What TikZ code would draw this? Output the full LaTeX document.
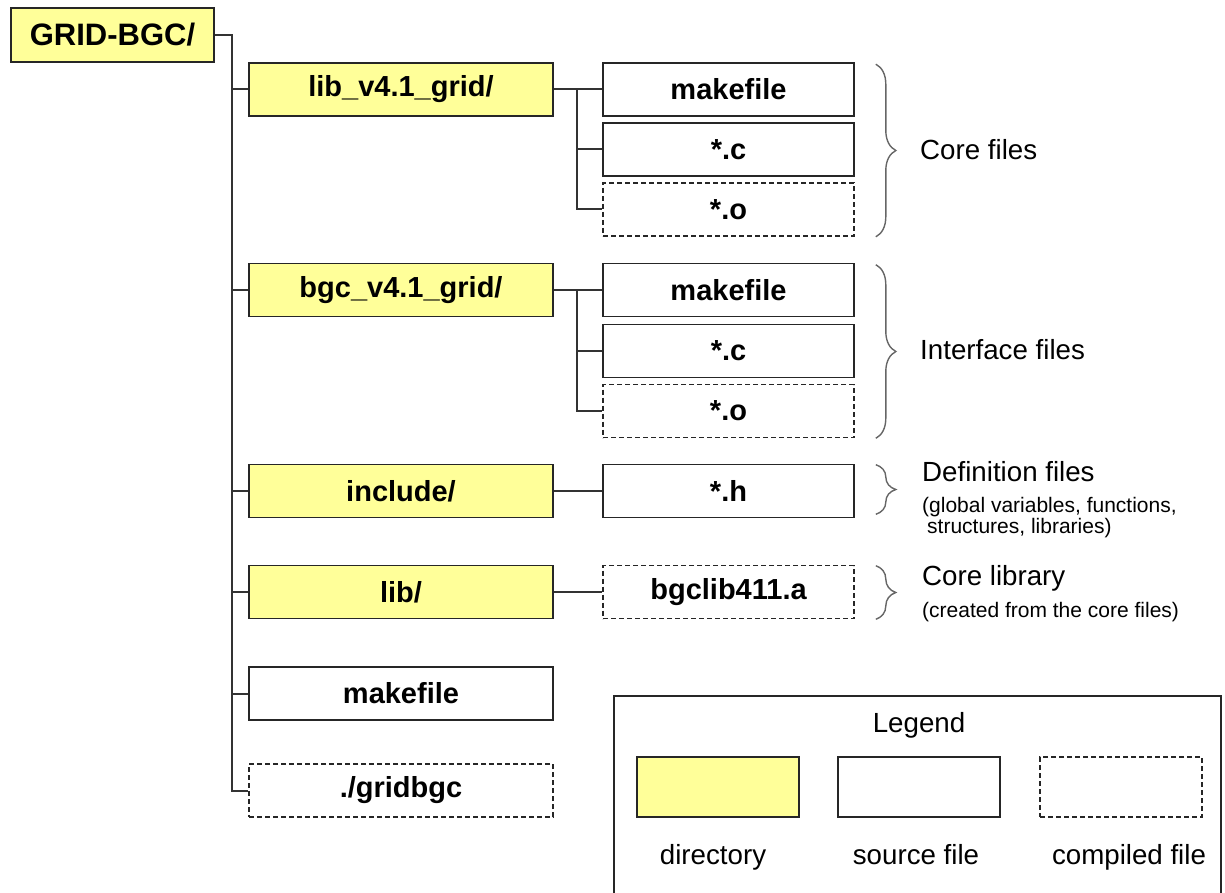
\documentclass[tikz,border=0pt]{standalone}
\usepackage{fontspec}
\setmainfont{Liberation Sans}
\usepackage{tikz}
\usetikzlibrary{positioning,calc,decorations.pathreplacing}
\definecolor{diryellow}{RGB}{255,255,153}

\begin{document}
\begin{tikzpicture}[x=1pt, y=-1pt,
    dir/.style={rectangle, draw=black!85, line width=1.6pt, fill=diryellow, minimum width=304pt, minimum height=53pt, inner sep=0pt, font=\fontsize{29}{34}\selectfont\bfseries},
    src/.style={rectangle, draw=black!85, line width=1.6pt, fill=white, minimum width=251pt, minimum height=53pt, inner sep=0pt, font=\fontsize{29}{34}\selectfont\bfseries},
    bin/.style={src, dash pattern=on 5pt off 3pt},
    key/.style={rectangle, draw=black!85, line width=1.6pt, minimum width=162pt, minimum height=60pt, inner sep=0pt},
    tree/.style={draw=black!80, line width=2pt},
    brace/.style={draw=black!60, line width=1.4pt, decorate, decoration={brace, amplitude=20pt, aspect=0.5}},
    note/.style={font=\fontsize{27.7}{32}\selectfont, inner sep=0pt},
    small/.style={font=\fontsize{21}{21.5}\selectfont, anchor=west, align=left, inner sep=0pt}
]
\useasboundingbox (0,0) rectangle (1225,893);

% Top directory
\node[dir, minimum width=203pt, minimum height=54pt, font=\fontsize{31}{36}\selectfont\bfseries] (rootdir) at (112.5,35) {GRID-BGC/};
\coordinate (trunktop) at (232,35);

% Second level
\node[dir] (libsrcdir) at (401,89.5) {lib\_v4.1\_grid/};
\node[dir] (bgcsrcdir) at (401,290) {bgc\_v4.1\_grid/};
\node[dir] (incdir) at (401,491) {include/};
\node[dir] (libdir) at (401,592) {lib/};
\node[src, minimum width=304pt] (topmake) at (401,693.5) {makefile};
\node[bin, minimum width=304pt] (gridbgc) at (401,790.5) {./gridbgc};

% Files
\node[src] (libmake) at (728.5,89.5) {makefile};
\node[src] (libc) at (728.5,149.5) {*.c};
\node[bin] (libo) at (728.5,209.5) {*.o};
\node[src] (bgcmake) at (728.5,290) {makefile};
\node[src] (bgcc) at (728.5,351) {*.c};
\node[bin] (bgco) at (728.5,411) {*.o};
\node[src] (hfiles) at (728.5,491) {*.h};
\node[bin] (bgclib) at (728.5,592) {bgclib411.a};

% Tree lines
\draw[tree] (rootdir.east) -- (trunktop) |- (gridbgc.west);
\foreach \d in {libsrcdir, bgcsrcdir, incdir, libdir, topmake}
    \draw[tree] (trunktop |- \d.west) -- (\d.west);

\coordinate (libfork) at (577,89.5);
\draw[tree] (libsrcdir.east) -- (libmake.west);
\draw[tree] (libfork) |- (libo.west);
\draw[tree] (libfork |- libc.west) -- (libc.west);

\coordinate (bgcfork) at (577,290);
\draw[tree] (bgcsrcdir.east) -- (bgcmake.west);
\draw[tree] (bgcfork) |- (bgco.west);
\draw[tree] (bgcfork |- bgcc.west) -- (bgcc.west);

\draw[tree] (incdir.east) -- (hfiles.west);
\draw[tree] (libdir.east) -- (bgclib.west);

% Braces and notes
\draw[brace] ([xshift=21pt, yshift=-2pt]libmake.north east) -- ([xshift=21pt]libo.south east);
\node[note, anchor=west] (corenote) at (920,150) {Core files};
\draw[brace] ([xshift=21pt, yshift=-2pt]bgcmake.north east) -- ([xshift=21pt]bgco.south east);
\node[note, anchor=west] (ifacenote) at (920,350) {Interface files};
\draw[brace] ([xshift=21pt, yshift=-1pt]hfiles.north east) -- ([xshift=21pt, yshift=4pt]hfiles.south east);
\node[note, anchor=west] (defnote) at (922,472) {Definition files};
\node[small] (defsub) at (922,517.5) {(global variables, functions,\\\hspace*{5pt}structures, libraries)};
\draw[brace] ([xshift=21pt, yshift=-1pt]bgclib.north east) -- ([xshift=21pt]bgclib.south east);
\node[note, anchor=west] (libnote) at (922,578) {Core library};
\node[small] (libsub) at (922,612) {(created from the core files)};

% Legend
\node[draw=black!85, line width=1.6pt, minimum width=607pt, minimum height=214pt] (legend) at (917.5,803) {};
\node[note, anchor=base] (legendtitle) at (919,732) {Legend};
\node[key, fill=diryellow] (keydir) at (718,787) {};
\node[key, fill=white] (keysrc) at (919,787) {};
\node[key, dash pattern=on 5pt off 3pt] (keybin) at (1121,787) {};
\node[note, anchor=base] at (713,864) (keydirtext) {directory};
\node[note, anchor=base] at (916,864) (keysrctext) {source file};
\node[note, anchor=base] at (1129,864) (keybintext) {compiled file};

\end{tikzpicture}
\end{document}
